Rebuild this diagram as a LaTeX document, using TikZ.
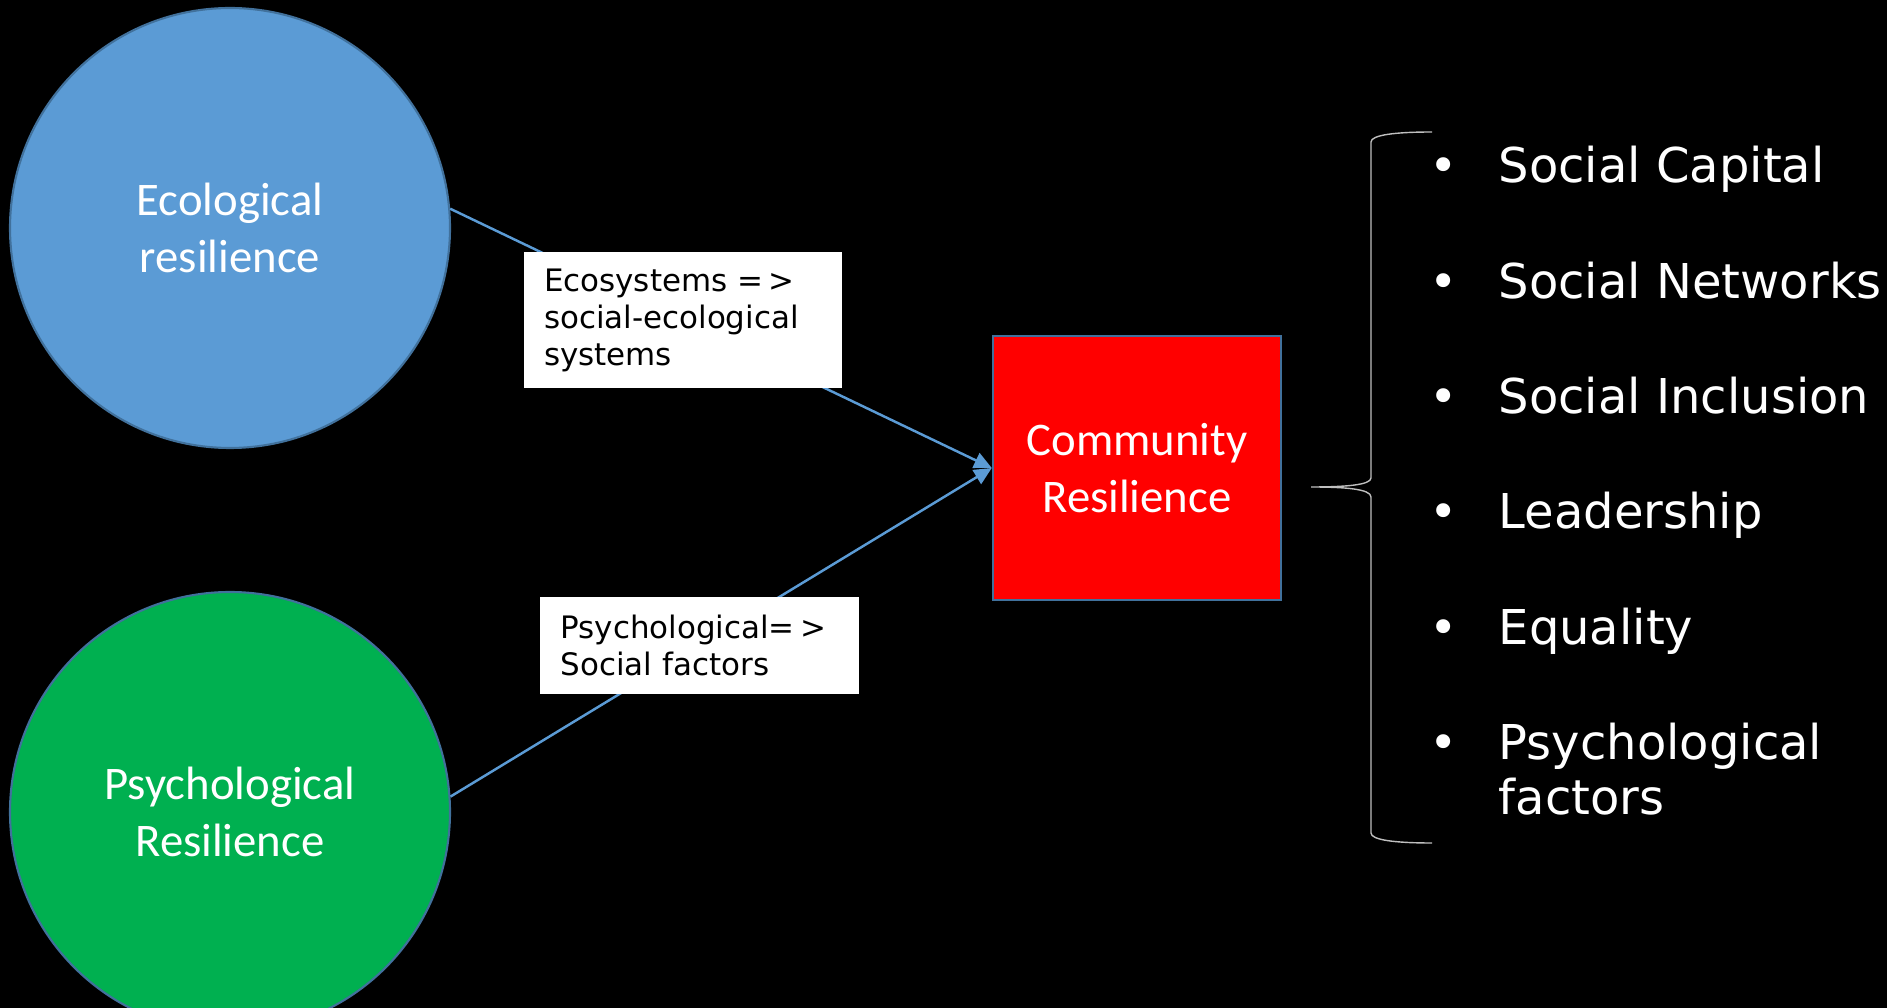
\documentclass[tikz,border=0pt]{standalone}
\usepackage{fontspec}
\setmainfont{Carlito}
\newfontfamily\dejavu{DejaVu Sans}
\usepackage{tikz}
\usetikzlibrary{arrows.meta}

\definecolor{ecoblue}{HTML}{5B9BD5}
\definecolor{psygreen}{HTML}{00B050}
\definecolor{edgeblue}{HTML}{41719C}
\definecolor{bracegray}{HTML}{BFBFBF}

\newcommand{\bitem}[1]{\makebox[0.69cm][l]{•}\parbox[t]{4.2cm}{\raggedright #1}}
\newcommand{\implto}{=\kern1.5pt>}

\begin{document}
\begin{tikzpicture}[
  circ/.style={circle, draw=edgeblue, line width=0.6pt, minimum size=4.4cm, inner sep=0pt,
    text=white, align=center, font=\fontsize{13.3pt}{16.2pt}\selectfont},
  box/.style={rectangle, draw=edgeblue, line width=0.7pt, fill=red, minimum width=2.88cm,
    minimum height=2.64cm, text=white, align=center, font=\fontsize{13.3pt}{16.2pt}\selectfont},
  conn/.style={draw=ecoblue, line width=0.7pt, -{Triangle[length=5pt,width=4.6pt]}},
  lbl/.style={fill=white, text=black, text width=2.78cm, inner xsep=0.2cm, inner ysep=0pt,
    align=left, font=\dejavu\fontsize{8.8pt}{10.5pt}\selectfont},
  item/.style={text=white, inner sep=0pt, anchor=base west,
    font=\dejavu\fontsize{13.66pt}{15.65pt}\selectfont}]

  \fill[black] (0,0) rectangle (18.87,-10.08);
  \useasboundingbox (0,0) rectangle (18.87,-10.08);
  \clip (0,0) rectangle (18.87,-10.08);

  \node[circ, fill=ecoblue] (eco) at (2.30,-2.28) {Ecological\\resilience};
  \node[circ, fill=psygreen] (psy) at (2.30,-8.12) {Psychological\\Resilience};
  \node[box] (cr) at (11.37,-4.68) {Community\\Resilience};

  \draw[conn] (eco.5) -- node[lbl, pos=0.43, minimum height=1.36cm] (ecolbl)
    {Ecosystems \implto\\social-ecological\\systems} (cr.west);
  \draw[conn] (psy.4) -- node[lbl, pos=0.46, minimum height=0.97cm] (psylbl)
    {Psychological\implto\\Social factors} (cr.west);

  \draw[bracegray, line width=0.4pt] (14.32,-1.32) .. controls (13.95,-1.32) and (13.71,-1.35) .. (13.71,-1.42)
    -- (13.71,-4.78) .. controls (13.71,-4.85) and (13.45,-4.87) .. (13.11,-4.87)
    .. controls (13.45,-4.87) and (13.71,-4.89) .. (13.71,-4.97)
    -- (13.71,-8.33) .. controls (13.71,-8.40) and (13.95,-8.43) .. (14.32,-8.43);

  \foreach \k/\txt in {0/Social Capital, 1/Social Networks, 2/Social Inclusion,
      3/Leadership, 4/Equality, 5/{Psychological\\factors}}
    \node[item] (item\k) at (14.29,{-1.83-1.153*\k}) {\bitem{\txt}};

\end{tikzpicture}
\end{document}
